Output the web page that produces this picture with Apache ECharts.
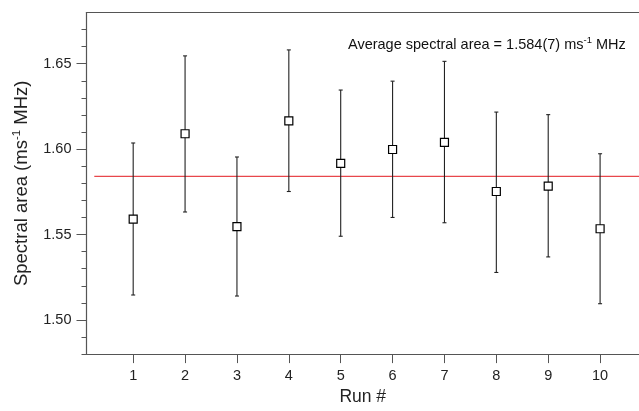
<!DOCTYPE html>
<html>
<head>
<meta charset="utf-8">
<script src="https://cdn.jsdelivr.net/npm/echarts@6/dist/echarts.min.js"></script>
<style>html,body{margin:0;padding:0;background:#fff}#c{width:639px;height:411px}</style>
</head>
<body>
<div id="c"></div>
<script>
var runs = [1, 2, 3, 4, 5, 6, 7, 8, 9, 10];
var areas = [1.559, 1.609, 1.5546, 1.6165, 1.5917, 1.5998, 1.604, 1.5752, 1.5784, 1.5534];
var errLow = [1.5146, 1.5632, 1.514, 1.5752, 1.549, 1.560, 1.5569, 1.5278, 1.5369, 1.5095];
var errHigh = [1.6036, 1.6546, 1.5954, 1.6581, 1.6346, 1.6398, 1.6514, 1.6217, 1.6202, 1.5973];
var average = 1.584;
var avgLineX = [0.25, 10.75];
var yMajorTicks = [1.50, 1.55, 1.60, 1.65];
var yMinorTicks = [1.48, 1.49, 1.51, 1.52, 1.53, 1.54, 1.56, 1.57, 1.58, 1.59, 1.61, 1.62, 1.63, 1.64, 1.66, 1.67];
var xTicks = runs;

var FONT = 'Liberation Sans, Arial, Helvetica, sans-serif';
var AX = '#555';
var chart = echarts.init(document.getElementById('c'));
var pts = runs.map(function (r, i) { return [r, areas[i]]; });
var bars = runs.map(function (r, i) { return [r, errLow[i], errHigh[i]]; });

chart.setOption({
  animation: false,
  backgroundColor: '#fff',
  grid: { left: 86.5, right: 0, top: 12.5, bottom: 52 },
  title: {
    text: 'Average spectral area = 1.584(7) ms{sup|-1} MHz',
    left: 348, top: 35, padding: 0,
    textStyle: {
      fontFamily: FONT, fontSize: 14.5, fontWeight: 'normal', color: '#111',
      rich: { sup: { fontFamily: FONT, fontSize: 9.5, verticalAlign: 'top', padding: [0, 0, 9, 0], color: '#111' } }
    }
  },
  xAxis: [{
    type: 'value', min: 0.1, max: 10.75,
    name: 'Run #', nameLocation: 'middle', nameGap: 32,
    nameTextStyle: { fontFamily: FONT, fontSize: 17.5, color: '#222', verticalAlign: 'top' },
    axisLine: { show: true, lineStyle: { color: AX, width: 1.2 } },
    axisTick: { show: true, length: 9, customValues: xTicks, lineStyle: { color: AX } },
    axisLabel: { customValues: xTicks, margin: 14, fontFamily: FONT, fontSize: 14.5, color: '#222' },
    splitLine: { show: false }
  }, {
    type: 'value', position: 'top', min: 0.1, max: 10.75,
    axisLine: { show: true, lineStyle: { color: AX, width: 1.2 } },
    axisTick: { show: false }, axisLabel: { show: false }, splitLine: { show: false }
  }],
  yAxis: [{
    type: 'value', min: 1.48, max: 1.68,
    name: 'Spectral area (ms{sup|-1} MHz)', nameLocation: 'middle', nameGap: 54,
    nameTextStyle: {
      fontFamily: FONT, fontSize: 18.5, color: '#222',
      rich: { sup: { fontFamily: FONT, fontSize: 11.5, color: '#222', verticalAlign: 'top', padding: [0, 0, 10, 0] } }
    },
    axisLine: { show: true, lineStyle: { color: AX, width: 1.2 } },
    axisTick: { show: true, length: 10, customValues: yMajorTicks, lineStyle: { color: AX } },
    axisLabel: {
      customValues: yMajorTicks, margin: 15, fontFamily: FONT, fontSize: 14.5, color: '#222',
      formatter: function (v) { return v.toFixed(2); }
    },
    splitLine: { show: false }
  }, {
    type: 'value', min: 1.48, max: 1.68, position: 'left',
    axisLine: { show: false },
    axisTick: { show: true, length: 5, customValues: yMinorTicks, lineStyle: { color: AX } },
    axisLabel: { show: false }, splitLine: { show: false }
  }],
  series: [{
    type: 'line', xAxisIndex: 0, yAxisIndex: 0, symbol: 'none', silent: true,
    data: avgLineX.map(function (x) { return [x, average]; }),
    lineStyle: { color: '#e8474c', width: 1.2 }, z: 1
  }, {
    type: 'custom', xAxisIndex: 0, yAxisIndex: 0, data: bars, z: 2,
    renderItem: function (params, api) {
      var x = api.value(0);
      var lo = api.coord([x, api.value(1)]);
      var hi = api.coord([x, api.value(2)]);
      var st = { stroke: '#222', lineWidth: 1.1 };
      return {
        type: 'group', children: [
          { type: 'line', shape: { x1: lo[0], y1: lo[1], x2: hi[0], y2: hi[1] }, style: st },
          { type: 'line', shape: { x1: lo[0] - 2, y1: lo[1], x2: lo[0] + 2, y2: lo[1] }, style: st },
          { type: 'line', shape: { x1: hi[0] - 2, y1: hi[1], x2: hi[0] + 2, y2: hi[1] }, style: st }
        ]
      };
    }
  }, {
    type: 'scatter', xAxisIndex: 0, yAxisIndex: 0, data: pts, z: 3,
    symbol: 'rect', symbolSize: 8,
    itemStyle: { color: '#fff', borderColor: '#000', borderWidth: 1.2, opacity: 1 }
  }]
});
</script>
</body>
</html>
